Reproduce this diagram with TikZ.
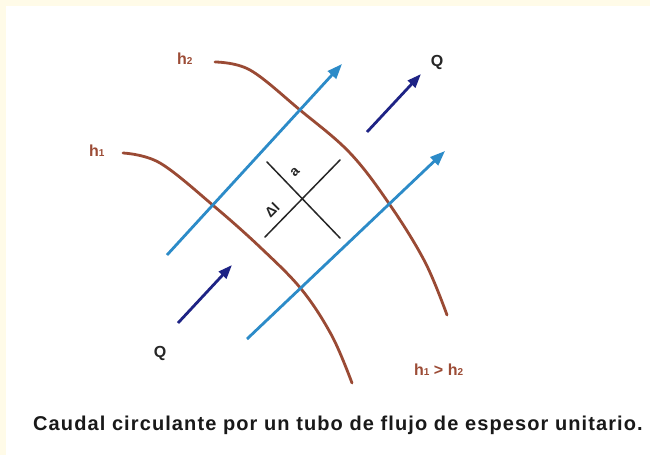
\documentclass[tikz,border=0pt]{standalone}
\usepackage{fontspec}
\setmainfont{Liberation Sans}
\usetikzlibrary{arrows.meta}
\definecolor{bgyellow}{HTML}{FFFBE8}
\definecolor{brownline}{HTML}{9A4A34}
\definecolor{flowblue}{HTML}{2C8BC8}
\definecolor{navy}{HTML}{1E2385}
\definecolor{labbrown}{HTML}{9C4C36}
\newcommand{\sbs}[1]{{\fontsize{10}{10}\selectfont #1}}
\tikzset{
  equipot/.style={draw=brownline, line width=2.8pt, line cap=round},
  flowline/.style={draw=flowblue, line width=2.8pt, -{Triangle[length=15pt,width=11pt]}},
  qarrow/.style={draw=navy, line width=2.8pt, -{Triangle[length=14pt,width=10pt]}},
  crossline/.style={draw=black!85, line width=1.5pt, line cap=round},
  hlab/.style={text=labbrown, font=\fontsize{16}{16}\selectfont\bfseries, inner sep=0pt},
  qlab/.style={text=black!85, font=\fontsize{16}{16}\selectfont\bfseries, inner sep=0pt},
  smalllab/.style={text=black!85, font=\fontsize{14}{14}\selectfont\bfseries, inner sep=0pt},
}
\begin{document}
\begin{tikzpicture}[x=1pt,y=-1pt]
\useasboundingbox (0,0) rectangle (650,455);
\fill[bgyellow] (0,0) rectangle (650,455);
\fill[white] (6,6) rectangle (650,455);
% equipotential curves
\draw[equipot] plot[smooth, tension=0.6] coordinates {(215,62) (250,70) (300,110) (350,153) (390,205) (425,262) (447,315)};
\draw[equipot] plot[smooth, tension=0.6] coordinates {(123,153) (160,163) (215,207) (262,249) (302,290) (332,336) (352,383)};
% flow lines
\coordinate (f1s) at (167,255); \coordinate (f1e) at (342,64);
\coordinate (f2s) at (247,339); \coordinate (f2e) at (445,151);
\draw[flowline] (f1s) -- (f1e);
\draw[flowline] (f2s) -- (f2e);
% Q arrows
\coordinate (q1s) at (367,132); \coordinate (q1e) at (421,74);
\coordinate (q2s) at (178,323); \coordinate (q2e) at (232,265);
\draw[qarrow] (q1s) -- (q1e);
\draw[qarrow] (q2s) -- (q2e);
% cross
\coordinate (c1a) at (267,162); \coordinate (c1b) at (340,238);
\coordinate (c2a) at (340,160); \coordinate (c2b) at (265,237);
\draw[crossline] (c1a) -- (c1b);
\draw[crossline] (c2a) -- (c2b);
\node[smalllab, rotate=45] (alab) at (295,172) {a};
\node[smalllab, rotate=45] (dl) at (272,210) {Δl};
% labels
\node[hlab, anchor=base west] (h2) at (177,64) {h\sbs{2}};
\node[hlab, anchor=base west] (h1) at (89,156) {h\sbs{1}};
\node[hlab, anchor=base west] (hh) at (414,375) {h\sbs{1} > h\sbs{2}};
\node[qlab] (qt) at (437,62) {Q};
\node[qlab] (qb) at (160,353) {Q};
\node[text=black!90, font=\fontsize{20}{20}\selectfont\bfseries\addfontfeature{LetterSpace=5.5}, inner sep=0pt, anchor=base west] (cap) at (33,430) {Caudal circulante por un tubo de flujo de espesor unitario.};
\end{tikzpicture}
\end{document}
